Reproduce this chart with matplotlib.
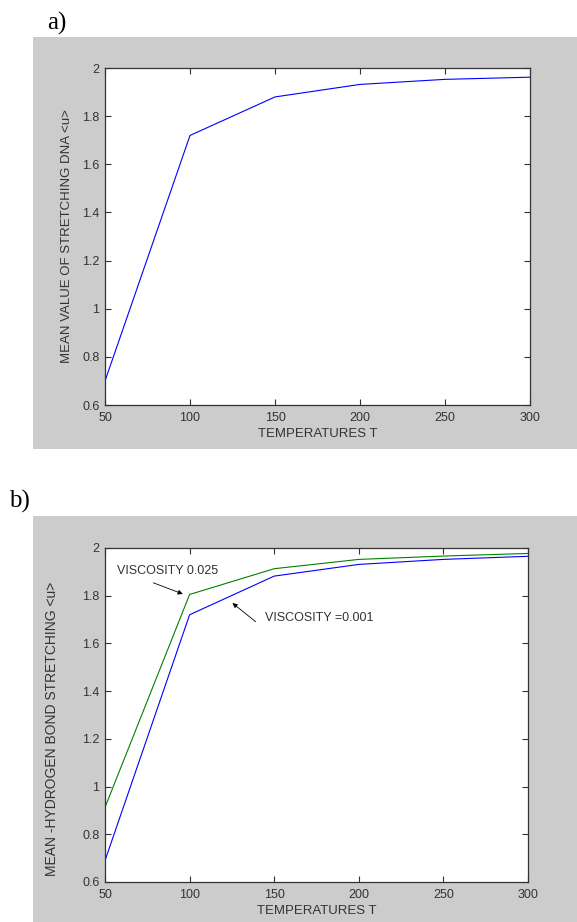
import matplotlib
matplotlib.use("Agg")
import matplotlib.pyplot as plt
from matplotlib.patches import Rectangle

# data
temps = [50, 100, 150, 200, 250, 300]
stretch_a = [0.70, 1.72, 1.88, 1.932, 1.953, 1.962]
visc_001 = [0.69, 1.72, 1.882, 1.931, 1.952, 1.965]
visc_025 = [0.913, 1.805, 1.913, 1.952, 1.966, 1.977]

xticks = [50, 100, 150, 200, 250, 300]
yticks = [0.6, 0.8, 1.0, 1.2, 1.4, 1.6, 1.8, 2.0]
ytick_labels = ["0.6", "0.8", "1", "1.2", "1.4", "1.6", "1.8", "2"]

plt.rcParams['font.family'] = ['Liberation Sans', 'DejaVu Sans']
txt_col = '#333333'
fs = 9

fig = plt.figure(figsize=(5.77, 9.22), dpi=100)
fig.patch.set_facecolor('white')

# gray matlab-style backgrounds (behind the axes)
fig.patches.append(Rectangle((0.0572, 0.513), 0.9428, 0.4469, transform=fig.transFigure,
                             facecolor='#cccccc', edgecolor='none', zorder=-5))
fig.patches.append(Rectangle((0.0572, 0.0), 0.9428, 0.4403, transform=fig.transFigure,
                             facecolor='#cccccc', edgecolor='none', zorder=-5))

fig.text(0.082, 0.975, "a)", family='Liberation Serif', fontsize=18, va='center', ha='left')
fig.text(0.016, 0.456, "b)", family='Liberation Serif', fontsize=18, va='center', ha='left')


def style_axes(ax):
    ax.set_xlim(50, 300)
    ax.set_ylim(0.6, 2.0)
    ax.set_xticks(xticks)
    ax.set_yticks(yticks)
    ax.set_yticklabels(ytick_labels)
    ax.tick_params(direction='in', top=True, right=True, length=4, width=0.8,
                   labelsize=fs, colors='#333333', labelcolor=txt_col)
    ax.tick_params(axis='x', pad=5)
    ax.tick_params(axis='y', pad=4)
    for s in ax.spines.values():
        s.set_linewidth(0.9)
        s.set_color('#333333')
    ax.set_facecolor('white')


ax1 = fig.add_axes([0.182, 0.5607, 0.7366, 0.3655])
ax1.plot(temps, stretch_a, color='#0000ff', lw=0.8)
style_axes(ax1)
ax1.set_xlabel("TEMPERATURES T", fontsize=fs + 0.5, color=txt_col, labelpad=3)
ax1.set_ylabel("MEAN VALUE OF STRETCHING DNA <u>", fontsize=fs + 0.5, color=txt_col)
ax1.yaxis.set_label_coords(-0.076, 0.5)

ax2 = fig.add_axes([0.182, 0.0434, 0.7331, 0.3623])
ax2.plot(temps, visc_025, color='#008000', lw=0.8)
ax2.plot(temps, visc_001, color='#0000ff', lw=0.8)
style_axes(ax2)
ax2.set_xlabel("TEMPERATURES T", fontsize=fs + 0.5, color=txt_col, labelpad=3)
ax2.set_ylabel("MEAN -HYDROGEN BOND STRETCHING <u>", fontsize=fs + 1, color=txt_col)
ax2.yaxis.set_label_coords(-0.108, 0.458)

arrow = dict(arrowstyle='-|>', color='k', lw=0.6, mutation_scale=7, shrinkA=0, shrinkB=0)
ax2.text(57, 1.903, "VISCOSITY 0.025", fontsize=fs, color=txt_col, va='center', ha='left')
ax2.annotate("", xy=(96, 1.807), xytext=(78.5, 1.854), arrowprops=arrow)
ax2.text(144.5, 1.706, "VISCOSITY =0.001", fontsize=fs, color=txt_col, va='center', ha='left')
ax2.annotate("", xy=(125.3, 1.769), xytext=(139, 1.691), arrowprops=arrow)

fig.savefig("out.png", dpi=100)
